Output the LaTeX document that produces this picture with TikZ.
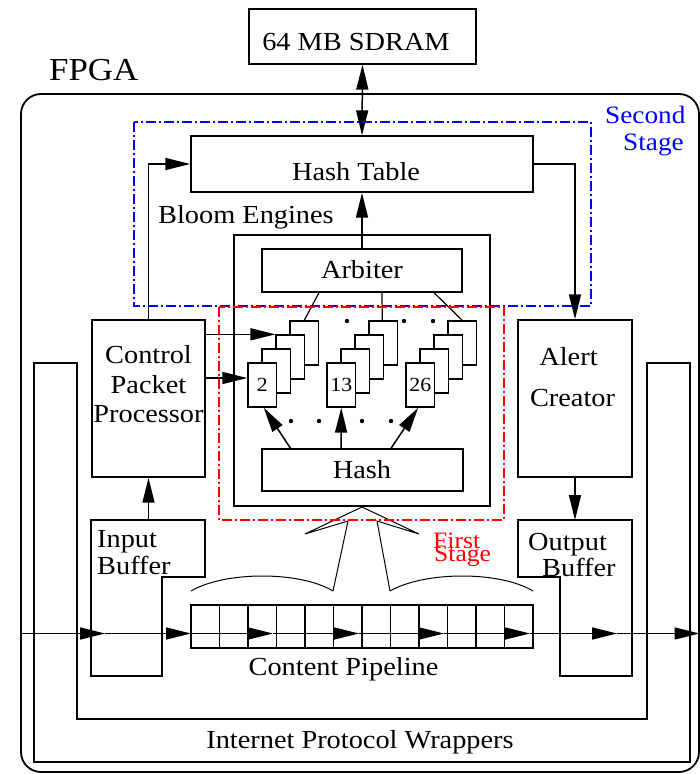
\documentclass[tikz,border=0pt]{standalone}
\usepackage{fontspec}
\setmainfont[FakeStretch=1.09]{Liberation Serif}
\usetikzlibrary{arrows.meta,calc}
\newcommand\myfs{\rmfamily\fontsize{26pt}{28pt}\selectfont}
\newcommand\mybigfs{\rmfamily\fontsize{32pt}{36pt}\selectfont}
\newcommand\mysmallfs{\rmfamily\fontsize{20pt}{22pt}\selectfont}
\newcommand\mysecondfs{\rmfamily\fontsize{25pt}{26pt}\selectfont}
\newcommand\mystagefs{\rmfamily\fontsize{23.5pt}{26pt}\selectfont}
\begin{document}
\begin{tikzpicture}[x=1pt,y=-1pt,
  box/.style={draw,line width=1.4pt,inner sep=0pt},
  card/.style={draw,line width=1.3pt,fill=white,minimum width=28.5pt,minimum height=44pt,inner sep=0pt,font=\mysmallfs},
  txt/.style={inner sep=0pt,font=\myfs},
  arr/.style={line width=1.5pt,-{Triangle[length=25pt,width=12pt]}},
  darr/.style={line width=1.5pt,{Triangle[length=25pt,width=12pt]}-{Triangle[length=25pt,width=12pt]}},
  thinln/.style={line width=1pt},
  dashdot/.style={line width=1.2pt,dash pattern=on 10pt off 3pt on 2pt off 3pt}]
\useasboundingbox (0,0) rectangle (700,774);

% FPGA frame
\draw[line width=1.8pt,rounded corners=20pt] (21,94) rectangle (699,772);
\node[inner sep=0pt,font=\mybigfs,anchor=base west] (fpga) at (49,80) {FPGA};

% Internet protocol wrappers (U-shaped band)
\draw[line width=1.4pt] (34,363) -- (34,762) -- (690,762) -- (690,363) -- (647,363) -- (647,719) -- (77,719) -- (77,363) -- cycle;
\node[txt,anchor=base] (ipw) at (360,748) {Internet Protocol Wrappers};

% SDRAM
\node[box,minimum width=227pt,minimum height=55pt] (sdram) at (362.5,36.5) {};
\node[txt,anchor=base] (sdramt) at (356,50) {64 MB SDRAM};

% Hash table
\node[box,minimum width=342pt,minimum height=56pt] (ht) at (362,164) {};
\node[txt,anchor=base] (htt) at (356,180) {Hash Table};
\draw[darr] (sdram.south) -- (ht.north);

\node[txt,anchor=base west] (bloomt) at (158,223) {Bloom Engines};

% Bloom engines box
\node[box,minimum width=256pt,minimum height=271pt] (bloom) at (362,370.5) {};
\node[box,minimum width=200pt,minimum height=43pt] (arb) at (362,270.5) {};
\node[txt,anchor=base] (arbt) at (362,278) {Arbiter};
\draw[arr] (arb.north) -- (ht.south);

\node[box,minimum width=201pt,minimum height=42pt] (hash) at (362.5,470) {};
\node[txt,anchor=base] (hasht) at (362,478) {Hash};

% card stacks
\foreach \g/\fx in {1/248,2/327,3/406} {
  \foreach \i in {3,2,1} {
    \node[card] (g\g-\i) at (\fx+14.25+14*\i, 385-14*\i) {};
  }
}
\node[card] (g1-0) at (262.25,385) {2};
\node[card] (g2-0) at (341.25,385) {13};
\node[card] (g3-0) at (420.25,385) {26};

\draw[line width=1.2pt] ([xshift=-43pt]arb.south) -- (g1-3.north);
\draw[line width=1.2pt] ([xshift=20pt]arb.south) -- ([xshift=-1pt]g2-3.north);
\draw[line width=1.2pt] ([xshift=72pt]arb.south) -- (g3-3.north);

\draw[arr] ([xshift=-72pt]hash.north) -- ([xshift=1.5pt]g1-0.south);
\draw[arr] ([xshift=-21.5pt]hash.north) -- (g2-0.south);
\draw[arr] ([xshift=28.5pt]hash.north) -- ([xshift=-2pt]g3-0.south);

\foreach \x in {347,404,433} \fill (\x,321) circle (2.2pt);
\foreach \x in {291,319,362,391} \fill (\x,421) circle (2.2pt);

% Control packet processor
\node[box,minimum width=113pt,minimum height=157pt] (cpp) at (148.5,398.5) {};
\node[txt,anchor=base] (cppt1) at (148.5,363) {Control};
\node[txt,anchor=base] (cppt2) at (148.5,393) {Packet};
\node[txt,anchor=base] (cppt3) at (148.5,422) {Processor};
\draw[arr] (cpp.north) |- (ht.west);
\draw[arr] (cpp.east |- g1-2.north west) -- (g1-2.north west);
\draw[arr] (cpp.east |- 0,378) -- ([yshift=7pt]g1-0.west);

% Alert creator
\node[box,minimum width=114pt,minimum height=157pt] (alert) at (575,398.5) {};
\node[txt,anchor=base] (alertt1) at (568.5,365) {Alert};
\node[txt,anchor=base] (alertt2) at (572.5,406) {Creator};
\draw[arr] (ht.east) -| (alert.north);

% Input buffer
\draw[line width=1.4pt] (91,520) -- (205,520) -- (205,577) -- (162,577) -- (162,676) -- (91,676) -- cycle;
\coordinate (ibtop) at (148.5,520);
\node[txt,anchor=base west] (ibt1) at (97,547) {Input};
\node[txt,anchor=base west] (ibt2) at (97,574) {Buffer};
\draw[arr] (ibtop) -- (cpp.south);

% Output buffer
\draw[line width=1.4pt] (518,520) -- (632,520) -- (632,676) -- (560,676) -- (560,577) -- (518,577) -- cycle;
\coordinate (obtop) at (575,520);
\node[txt,anchor=base west] (obt1) at (528,550) {Output};
\node[txt,anchor=base west] (obt2) at (542,576) {Buffer};
\draw[arr] (alert.south) -- (obtop);

% funnel and braces
\draw[thinln,line join=miter] (333,591) -- (348,521) -- (305,534) -- (362,507) -- (419,534) -- (377,521) -- (390,591);
\draw[thinln] (191,591) .. controls (225,571) and (300,571) .. (333,591);
\draw[thinln] (390,591) .. controls (425,571) and (500,571) .. (533,591);

% content pipeline
\node[box,minimum width=342pt,minimum height=43pt] (pipe) at (362,626.5) {};
\foreach \i in {1,...,11} \draw[line width=1.3pt] (191+28.5*\i,605) -- (191+28.5*\i,648);
\node[txt,anchor=base] (pipet) at (343.5,675) {Content Pipeline};

% main data path
\coordinate (inL) at (21,633.5);
\coordinate (t1) at (105,633.5);
\coordinate (t2) at (191,633.5);
\coordinate (t3) at (273,633.5);
\coordinate (t4) at (359,633.5);
\coordinate (t5) at (444,633.5);
\coordinate (t6) at (530,633.5);
\coordinate (t7) at (617,633.5);
\coordinate (outR) at (699.5,633.5);
\draw[arr] (inL) -- (t1);
\draw[arr] (t1) -- (t2);
\draw[arr] (t2) -- (t3);
\draw[arr] (t3) -- (t4);
\draw[arr] (t4) -- (t5);
\draw[arr] (t5) -- (t6);
\draw[arr] (t6) -- (t7);
\draw[arr] (t7) -- (outR);

% stage outlines
\draw[dashdot,blue] (134,122) rectangle (591,306);
\draw[dashdot,red] (219,307) rectangle (504,520);
\node[inner sep=0pt,font=\mysecondfs,text=blue,anchor=base west] (sst1) at (605,123) {Second};
\node[inner sep=0pt,font=\mysecondfs,text=blue,anchor=base west] (sst2) at (623,150) {Stage};
\node[inner sep=0pt,font=\mystagefs,text=red,anchor=base west] (fst1) at (433,548) {First};
\node[inner sep=0pt,font=\mystagefs,text=red,anchor=base west] (fst2) at (434,561) {Stage};
\end{tikzpicture}
\end{document}
